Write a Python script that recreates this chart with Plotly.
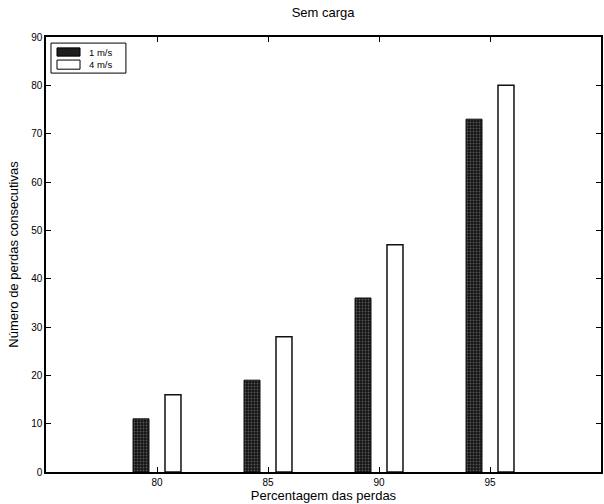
import plotly.graph_objects as go

categories = [80, 85, 90, 95]
series_names = ["1 m/s", "4 m/s"]
values_1ms = [11, 19, 36, 73]
values_4ms = [16, 28, 47, 80]
y_ticks = [0, 10, 20, 30, 40, 50, 60, 70, 80, 90]

FONT = "Liberation Sans, Arial, Helvetica, sans-serif"
DARK = "#1e1e1e"

fig = go.Figure()
fig.add_trace(go.Bar(
    x=categories, y=values_1ms, name=series_names[0],
    marker=dict(
        color=DARK,
        line=dict(color="#111111", width=1),
        pattern=dict(shape=".", bgcolor="#151515", fgcolor="#9a9a9a", size=3, solidity=0.3),
    ),
))
fig.add_trace(go.Bar(
    x=categories, y=values_4ms, name=series_names[1],
    marker=dict(color="white", line=dict(color="#111111", width=1.5)),
))

# custom compact legend (MATLAB style) in paper coordinates
legend_box = dict(x0=0.009, x1=0.144, y0=0.917, y1=0.986)
swatches = [dict(y0=0.956, y1=0.975, fill=DARK), dict(y0=0.926, y1=0.947, fill="white")]
fig.add_shape(type="rect", xref="paper", yref="paper", **legend_box,
              line=dict(color="black", width=1), fillcolor="white", layer="above")
for name, sw in zip(series_names, swatches):
    fig.add_shape(type="rect", xref="paper", yref="paper", x0=0.0198, x1=0.0613,
                  y0=sw["y0"], y1=sw["y1"], fillcolor=sw["fill"],
                  line=dict(color="black", width=1), layer="above")
    fig.add_annotation(xref="paper", yref="paper", x=0.074, y=(sw["y0"] + sw["y1"]) / 2,
                       text=name, showarrow=False, xanchor="left", yanchor="middle",
                       font=dict(family=FONT, size=9.5, color="black"))

fig.update_layout(
    width=604, height=504,
    margin=dict(l=46, r=3, t=37, b=32),
    paper_bgcolor="white", plot_bgcolor="white",
    barmode="group", bargap=0.424, bargroupgap=0.5,
    font=dict(family=FONT, color="black", size=10),
    title=dict(text="Sem carga", x=0.535, xanchor="center", y=0.976, yanchor="middle",
               font=dict(family=FONT, size=13, color="black")),
    showlegend=False,
)
fig.update_xaxes(
    range=[75, 100], tickvals=categories, ticktext=[str(c) for c in categories],
    ticks="inside", ticklen=5, tickcolor="black", mirror="ticks",
    showline=True, linecolor="black", linewidth=1.5, showgrid=False, zeroline=False,
    automargin=False,
    tickfont=dict(family=FONT, size=10, color="black"),
    title=dict(text="Percentagem das perdas", standoff=0,
               font=dict(family=FONT, size=13, color="black")),
)
fig.update_yaxes(
    range=[0, 90], tickvals=y_ticks,
    ticks="inside", ticklen=5, tickcolor="black", mirror="ticks",
    showline=True, linecolor="black", linewidth=1.5, showgrid=False, zeroline=False,
    automargin=False,
    tickfont=dict(family=FONT, size=10, color="black"),
    title=dict(text="Número de perdas consecutivas", standoff=10,
               font=dict(family=FONT, size=13, color="black")),
)

fig.write_html(
    "out.html",
    config={"displayModeBar": False},
    post_script="document.body.style.margin='0px';document.body.style.overflow='hidden';",
)
